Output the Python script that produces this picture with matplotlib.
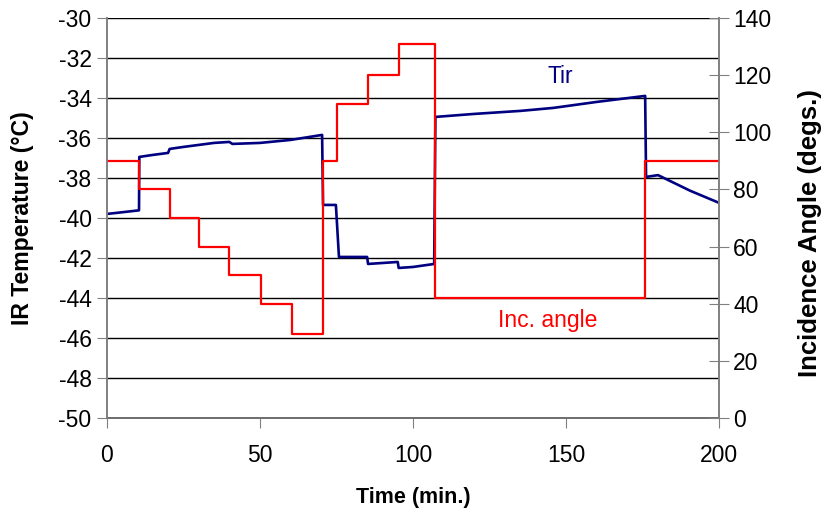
import matplotlib.pyplot as plt
import numpy as np

plt.rcParams['font.family'] = ['Liberation Sans', 'DejaVu Sans']
plt.rcParams['axes.unicode_minus'] = False

# IR temperature (Tir) trace, left axis
tir_time = [0, 3, 10.5, 10.6, 15, 20, 20.5, 25, 30, 35, 40, 41, 50, 60, 70.3,
            70.6, 74.8, 75.8, 85, 85.3, 95, 95.3, 100, 106.9, 107.3, 120, 135,
            145.8, 160, 175.8, 176.1, 180, 190.5, 200]
tir_temp = [-39.8, -39.75, -39.62, -36.95, -36.85, -36.75, -36.55, -36.45,
            -36.35, -36.25, -36.2, -36.3, -36.25, -36.1, -35.85,
            -39.35, -39.35, -41.95, -41.95, -42.3, -42.2, -42.5, -42.45, -42.3,
            -34.95, -34.8, -34.65, -34.5, -34.2, -33.9, -37.95, -37.86, -38.64,
            -39.25]

# incidence angle steps, right axis
ang_time = [0, 10.6, 20.5, 30.2, 40, 50.5, 60.4, 70.7, 75, 85.2, 95.4, 107.1, 175.8, 200]
ang_deg = [90, 80, 70, 60, 50, 40, 29.5, 90, 110, 120, 131, 42, 90, 90]

fig = plt.figure(figsize=(8.22, 5.11), dpi=100)
ax = fig.add_axes([0.130, 0.182, 0.745, 0.783])
ax2 = ax.twinx()

ax.plot(tir_time, tir_temp, color='#000080', lw=1.9)
ax2.plot(ang_time, ang_deg, color='#ff0000', lw=1.6, drawstyle='steps-post')

ax.set_xlim(0, 200)
ax.set_ylim(-50, -30)
ax2.set_ylim(0, 140)
ax.set_xticks(np.arange(0, 201, 50))
ax.set_yticks(np.arange(-50, -29, 2))
ax2.set_yticks(np.arange(0, 141, 20))

ax.yaxis.grid(True, color='black', lw=1)
ax.set_axisbelow(True)

for a in (ax, ax2):
    for s in a.spines.values():
        s.set_color('#808080')
        s.set_linewidth(1.2)
    a.spines['top'].set_visible(False)
ax.spines['bottom'].set_color('black')

ax.tick_params(axis='y', direction='out', length=7, color='#808080', labelsize=16.5, pad=4)
ax.tick_params(axis='x', direction='out', length=7, color='#808080', labelsize=16.5, pad=12)
ax2.tick_params(axis='y', direction='inout', length=14, color='#808080', labelsize=16.5, pad=3)

ax.set_xlabel('Time (min.)', fontsize=15.5, fontweight='bold', labelpad=14)
ax.set_ylabel('IR Temperature (°C)', fontsize=16.6, fontweight='bold')
ax2.set_ylabel('Incidence Angle (degs.)', fontsize=18.5, fontweight='bold')
ax.yaxis.set_label_coords(-0.119, 0.5)
ax2.yaxis.set_label_coords(1.129, 0.4625)

ax.text(148, -32.95, 'Tir', color='#000080', fontsize=16.5, ha='center', va='center')
ax2.text(144, 34, 'Inc. angle', color='#ff0000', fontsize=16.5, ha='center', va='center')

fig.savefig('out.png', dpi=100)
